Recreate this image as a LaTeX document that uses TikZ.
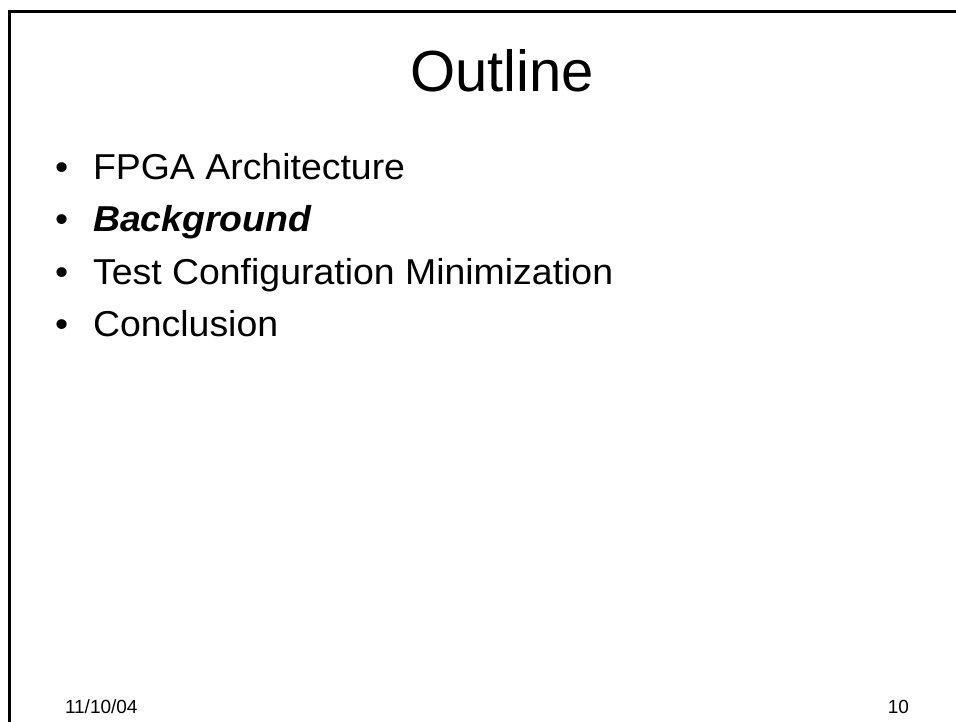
\documentclass[tikz,border=0pt]{standalone}
\usepackage{fontspec}
\setmainfont{Liberation Sans}
\newfontfamily\widesans[FakeStretch=1.04]{Liberation Sans}
\begin{document}
\begin{tikzpicture}[x=1pt,y=1pt,
  every node/.style={inner sep=0pt, outer sep=0pt, text=black},
  titletext/.style={font=\fontsize{58}{60}\selectfont, anchor=base},
  bullettext/.style={font=\widesans\fontsize{36}{40}\selectfont, anchor=base west},
  foottext/.style={font=\fontsize{19}{22}\selectfont},
  frameline/.style={line width=3pt, black}]
\useasboundingbox (0,0) rectangle (956,-722);
\draw[frameline] (9,-722) -- (9,-12) -- (956,-12);
\node[titletext] (title) at (502,-92) {Outline};
\node[bullettext] (b1) at (55,-180) {\textbullet};
\node[bullettext] (t1) at (93,-180) {FPGA Architecture};
\node[bullettext] (b2) at (55,-232) {\textbullet};
\node[bullettext] (t2) at (93,-232) {\textbf{\textit{Background}}};
\node[bullettext] (b3) at (55,-284) {\textbullet};
\node[bullettext] (t3) at (93,-284) {Test Configuration Minimization};
\node[bullettext] (b4) at (55,-336) {\textbullet};
\node[bullettext] (t4) at (93,-336) {Conclusion};
\node[foottext, anchor=base west] (date) at (65,-713) {11/10/04};
\node[foottext, anchor=base east] (page) at (909,-713) {10};
\end{tikzpicture}
\end{document}
